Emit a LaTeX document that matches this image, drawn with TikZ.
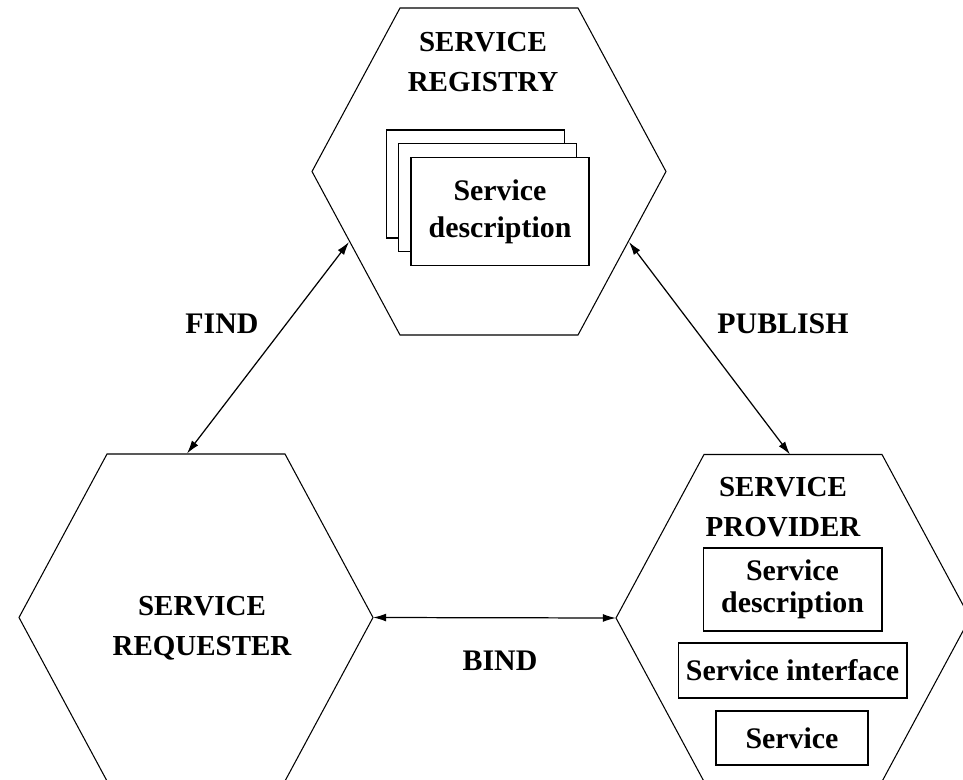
\documentclass[tikz,border=0pt]{standalone}
\usepackage{fontspec}
\setmainfont{Liberation Serif}
\usetikzlibrary{arrows.meta}
\tikzset{
  hexside/.style={line width=0.6pt},
  title/.style={font=\bfseries\fontsize{16.5}{22.5}\selectfont,align=center},
  tag/.style={font=\bfseries\fontsize{17}{20}\selectfont},
  card/.style={draw,fill=white,line width=0.6pt,inner sep=0pt,align=center,
    font=\bfseries\fontsize{17}{21}\selectfont},
  link/.style={line width=0.7pt,{Latex[length=7.5pt,width=4.5pt]}-{Latex[length=7.5pt,width=4.5pt]}}
}
\begin{document}
\begin{tikzpicture}[x=0.02cm,y=-0.02cm]
  \useasboundingbox (0,0) rectangle (963,780);
  \fill[white] (0,0) rectangle (963,780);
  % the three hexagons
  \foreach \n/\cx/\cy in {reg/489/171.5, req/196/617.5, prov/793/618}{
    \draw[hexside] (\cx-89,\cy-163.5) -- (\cx+89,\cy-163.5) -- (\cx+177,\cy)
      -- (\cx+89,\cy+163.5) -- (\cx-89,\cy+163.5) -- (\cx-177,\cy) -- cycle;
    \coordinate (\n-e) at (\cx+177,\cy);
    \coordinate (\n-w) at (\cx-177,\cy);
  }
  \node[title] (regname) at (483,62) {SERVICE\\REGISTRY};
  \node[title] (reqname) at (202,628) {SERVICE\\REQUESTER};
  \node[title] (provname) at (783,507) {SERVICE\\PROVIDER};
  % stack of descriptions in the registry
  \node[card,minimum width=3.56cm,minimum height=2.16cm] (regback) at (475.5,184) {};
  \node[card,minimum width=3.56cm,minimum height=2.16cm] (regmid) at (487.5,197.5) {};
  \node[card,minimum width=3.56cm,minimum height=2.16cm] (regdesc) at (500,211.5) {Service\\description};
  % provider parts
  \node[card,minimum width=3.58cm,minimum height=1.66cm,
    font=\bfseries\fontsize{17}{18}\selectfont] (provdesc) at (792.5,589.5) {Service\\description};
  \node[card,minimum width=4.58cm,minimum height=1.1cm] (provif) at (792.5,670.5) {Service interface};
  \node[card,minimum width=3.04cm,minimum height=1.08cm] (provsvc) at (792,738) {Service};
  % connectors
  \coordinate (reg-find) at (349,242);
  \coordinate (req-find) at (187,453.5);
  \coordinate (reg-pub) at (629,242);
  \coordinate (prov-pub) at (790,454.5);
  \draw[link] (reg-find) -- (req-find);
  \draw[link] (reg-pub) -- (prov-pub);
  \draw[link] (req-e) -- (prov-w);
  \node[tag] (findtag) at (222,324) {FIND};
  \node[tag] (pubtag) at (783,324) {PUBLISH};
  \node[tag] (bindtag) at (500,661) {BIND};
\end{tikzpicture}
\end{document}
